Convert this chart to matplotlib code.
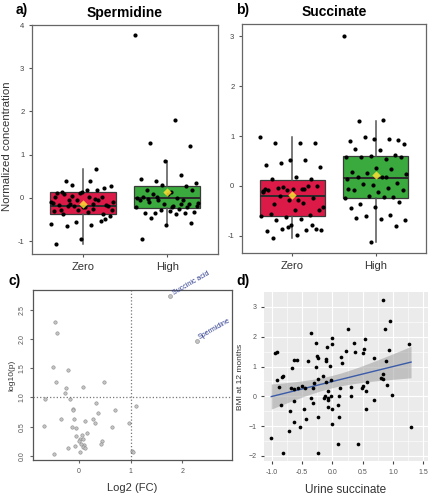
import numpy as np
import matplotlib
matplotlib.use('Agg')
import matplotlib.pyplot as plt

plt.rcParams['font.family'] = ['Liberation Sans', 'DejaVu Sans']

# ---- data ----
groups = ['Zero', 'High']

sperm_zero = [-0.10, 0.40, 0.38, -0.50, -0.95, -1.07, 0.67, 0.29, 0.28, 0.19, 0.13, 0.02,
              -0.06, -0.12, -0.14, -0.18, -0.19, -0.22, -0.16, -0.06, -0.18, -0.10, 0.02,
              0.09, 0.22, 0.11, 0.02, -0.02, -0.14, -0.41, -0.22, -0.29, -0.53, -0.57,
              -0.60, -0.62, -0.66, -0.16, 0.13, 0.11, 0.17, 0.05, -0.29, -0.33, -0.37,
              -0.37, -0.28, -0.31, -0.26, -0.06]
sperm_high = [3.78, 1.81, 1.27, 1.19, 0.86, 0.43, 0.52, 0.40, 0.35, 0.13, 0.19, 0.27, 0.29,
              0.00, 0.00, 0.09, 0.17, 0.09, 0.02, -0.06, -0.05, -0.12, -0.18, -0.10, -0.14,
              -0.15, -0.06, -0.26, -0.35, -0.33, -0.31, -0.35, -0.35, -0.29, -0.22, -0.37,
              -0.47, -0.59, -0.64, -0.95, -0.14, 0.02, -0.20, -0.22, -0.02, -0.22]
succ_zero = [0.99, 0.85, 0.85, 0.85, 0.51, 0.41, 0.52, 0.45, 0.37, 0.17, 0.13, 0.13, -0.09,
             -0.11, -0.06, -0.04, -0.01, -0.07, -0.09, -0.01, -0.03, -0.43, -0.29, -0.37,
             -0.24, -0.29, -0.06, -0.07, -0.21, -0.48, -0.49, -0.56, -0.59, -0.63, -0.61,
             -0.66, -0.68, -0.87, -0.79, -0.91, -0.88, -0.86, -0.88, -0.99, -1.04, -0.79,
             -0.83, -0.13, -0.34]
succ_high = [3.01, 1.33, 1.31, 0.91, 0.95, 0.90, 0.95, 0.98, 0.83, 0.71, 0.73, 0.61, 0.59,
             0.57, 0.53, 0.58, 0.58, 0.35, 0.28, 0.33, 0.26, 0.23, 0.18, 0.17, 0.05, 0.01,
             -0.07, -0.05, 0.03, -0.09, -0.12, -0.09, -0.22, -0.21, -0.25, -0.23, -0.37,
             -0.32, -0.43, -0.44, -0.59, -0.61, -0.69, -0.67, -0.64, -0.80, -1.13, 0.13, 0.18]

# box stats: q1, median, q3, whisker low, whisker high, mean
sperm_box = [(-0.37, -0.19, 0.13, -1.07, 0.67, -0.15), (-0.23, 0.00, 0.27, -0.64, 0.86, 0.13)]
succ_box = [(-0.61, -0.20, 0.11, -1.05, 0.99, -0.19), (-0.25, 0.15, 0.59, -1.13, 1.31, 0.21)]

# panel c
fc = [-0.46, -0.42, -0.50, -0.21, -0.45, -0.25, 0.08, 0.49, -0.28, -0.66, -0.17, 0.33,
      -0.11, -0.12, 0.37, 0.70, 1.10, -0.34, -0.10, 0.28, -0.67, -0.14, -0.06, 0.12, 0.30,
      0.63, 0.97, 0.16, 0.05, -0.06, 0.02, 0.00, 0.08, 0.10, -0.08, 0.04, 0.08, 0.12,
      0.44, 0.42, -0.21, 0.01, -0.48, 1.02, 1.04]
logp = [2.29, 2.10, 1.53, 1.47, 1.26, 1.16, 1.18, 1.27, 1.07, 0.98, 0.98, 0.90, 0.80,
        0.79, 0.74, 0.78, 0.86, 0.64, 0.63, 0.63, 0.51, 0.50, 0.47, 0.59, 0.56, 0.50,
        0.56, 0.39, 0.36, 0.34, 0.29, 0.26, 0.29, 0.19, 0.17, 0.21, 0.16, 0.13, 0.26,
        0.21, 0.13, 0.07, 0.03, 0.09, 0.07]
sig_names = ['Succinic acid', 'Spermidine']
sig_fc = [1.77, 2.28]
sig_logp = [2.73, 1.97]

# panel d
succ_x = [-1.01, -0.82, -0.95, -0.91, -0.91, -0.89, -0.85, -0.84, -0.81, -0.71, -0.70, -0.67,
          -0.68, -0.63, -0.63, -0.59, -0.63, -0.63, -0.56, -0.51, -0.46, -0.54, -0.47, -0.43,
          -0.40, -0.35, -0.35, -0.32, -0.31, -0.32, -0.27, -0.27, -0.25, -0.24, -0.23, -0.23,
          -0.23, -0.15, -0.14, -0.12, -0.10, -0.10, -0.09, -0.10, -0.08, -0.08, -0.07, -0.04,
          -0.03, -0.02, -0.01, -0.01, 0.00, 0.00, -0.07, 0.10, 0.11, 0.11, 0.10, 0.13, 0.15,
          0.16, 0.23, 0.25, 0.30, 0.31, 0.35, 0.38, 0.43, 0.49, 0.50, 0.51, 0.53, 0.54, 0.55,
          0.55, 0.58, 0.68, 0.69, 0.83, 0.81, 0.83, 0.84, 0.87, 0.88, 0.91, 0.93, 0.96, 0.98,
          1.27, 1.30]
bmi = [-1.40, -1.90, 1.46, 1.49, 0.56, 0.32, -0.28, 0.65, 0.69, -1.16, -0.49, 0.96, 0.29,
       -0.15, 1.21, 1.23, -0.87, 0.24, 0.29, 0.35, 0.29, -1.03, -0.43, -0.75, 1.19, 2.13,
       -0.05, -0.21, 0.46, 0.28, 1.80, 0.99, 1.34, 1.27, 0.58, -0.69, -1.89, 0.67, -0.04,
       0.00, 1.20, 1.25, 1.66, 0.49, 0.18, -0.05, -0.36, 1.01, 0.01, 0.56, -0.41, -0.92,
       1.94, 1.75, -0.13, -0.28, 0.02, -0.71, -1.59, 0.28, 1.32, 1.13, 1.51, 2.27, 0.00,
       0.32, 1.80, 1.49, -1.59, 0.29, 0.34, 1.47, 1.58, 1.92, -0.41, 0.17, 0.48, 1.27,
       -0.11, 3.22, 0.62, 0.57, 0.76, 2.27, 1.19, 0.39, 1.57, 2.53, 0.04, 1.74, -1.03]

RED = '#DC1A48'
GREEN = '#3BAA3E'
EDGE = '#3a3a3a'


def jitter(n, width=0.76):
    # deterministic spread for the strip points
    return ((np.arange(n) * 0.618034) % 1 - 0.5) * width


def box_panel(ax, vals, stats, title, ylim, yticks, ylabel=None):
    bxp_stats = []
    for (q1, med, q3, lo, hi, mean) in stats:
        bxp_stats.append({'q1': q1, 'med': med, 'q3': q3, 'whislo': lo, 'whishi': hi,
                          'mean': mean, 'fliers': []})
    bp = ax.bxp(bxp_stats, positions=[1, 2], widths=0.78, patch_artist=True,
                showcaps=False, showfliers=False, showmeans=False,
                boxprops=dict(edgecolor=EDGE, linewidth=0.9),
                whiskerprops=dict(color='#555555', linewidth=1.1),
                medianprops=dict(color='#2a2a2a', linewidth=1.4))
    for patch, c in zip(bp['boxes'], [RED, GREEN]):
        patch.set_facecolor(c)
    for i, v in enumerate(vals):
        v = np.array(v)
        ax.scatter(i + 1 + jitter(len(v)), v, s=9, color='black', zorder=3, linewidths=0)
    for i, st in enumerate(stats):
        ax.scatter([i + 1], [st[5]], marker='D', s=18, color='#FFE033', alpha=0.85,
                   zorder=4, linewidths=0)
    ax.set_xlim(0.4, 2.6)
    ax.set_ylim(*ylim)
    ax.set_yticks(yticks)
    ax.set_yticklabels([str(t) for t in yticks])
    ax.set_xticks([1, 2])
    ax.set_xticklabels(groups, fontsize=8, color='#333333')
    ax.tick_params(axis='y', labelsize=5.5, length=2, color='#555555', labelcolor='#444444')
    ax.tick_params(axis='x', length=2, color='#555555')
    for s in ax.spines.values():
        s.set_color('#666666')
        s.set_linewidth(0.9)
    ax.set_title(title, fontsize=10, fontweight='bold', pad=6)
    if ylabel:
        ax.set_ylabel(ylabel, fontsize=8.2, color='#333333')
        ax.yaxis.set_label_coords(-0.105, 0.47)


fig = plt.figure(figsize=(4.34, 5.0), dpi=100)

ax_a = fig.add_axes([32 / 434, 1 - 254 / 500, 186 / 434, 229 / 500])
box_panel(ax_a, [sperm_zero, sperm_high], sperm_box, 'Spermidine',
          (-1.3, 4.0), [-1, 0, 1, 2, 3, 4], 'Normalized concentration')

ax_b = fig.add_axes([242 / 434, 1 - 253 / 500, 184 / 434, 229 / 500])
box_panel(ax_b, [succ_zero, succ_high], succ_box, 'Succinate',
          (-1.35, 3.25), [-1, 0, 1, 2, 3])

# ---- panel c ----
ax_c = fig.add_axes([33 / 434, 1 - 460 / 500, 199 / 434, 170 / 500])
ax_c.scatter(fc, logp, s=6, facecolor='#c4c4c4', edgecolor='#8a8a8a', linewidths=0.4)
ax_c.scatter(sig_fc, sig_logp, s=8, facecolor='#c4c4c4', edgecolor='#8a8a8a', linewidths=0.4)
for name, x, y in zip(sig_names, sig_fc, sig_logp):
    ax_c.annotate(name, (x, y), xytext=(3, 0), textcoords='offset points', fontsize=5,
                  color='#2b3a8c', rotation=30, rotation_mode='anchor', ha='left',
                  va='bottom', annotation_clip=False).set_clip_on(False)
ax_c.axvline(1, color='#777777', linestyle=':', linewidth=0.9)
ax_c.axhline(1, color='#777777', linestyle=':', linewidth=0.9)
ax_c.set_xlim(-0.89, 2.96)
ax_c.set_ylim(-0.07, 2.84)
ax_c.set_xticks([0, 1, 2])
ax_c.set_yticks([0.0, 0.5, 1.0, 1.5, 2.0, 2.5])
ax_c.set_yticklabels(['0.0', '0.5', '1.0', '1.5', '2.0', '2.5'], rotation=90, va='center')
ax_c.tick_params(labelsize=5, length=2, color='#666666', labelcolor='#555555')
ax_c.set_xlabel('Log2 (FC)', fontsize=8, color='#333333', labelpad=6)
ax_c.set_ylabel('log10(p)', fontsize=6, color='#333333', labelpad=2)
for s in ax_c.spines.values():
    s.set_color('#555555')
    s.set_linewidth(0.9)

# ---- panel d ----
ax_d = fig.add_axes([264 / 434, 1 - 461 / 500, 164 / 434, 169 / 500])
ax_d.set_facecolor('#EBEBEB')
xd = np.array(succ_x)
yd = np.array(bmi)
slope, intercept = np.polyfit(xd, yd, 1)
n = len(xd)
resid = yd - (slope * xd + intercept)
s_err = np.sqrt(np.sum(resid ** 2) / (n - 2))
sxx = np.sum((xd - xd.mean()) ** 2)
xs = np.linspace(xd.min(), xd.max(), 100)
ys = slope * xs + intercept
ci = 1.987 * s_err * np.sqrt(1 / n + (xs - xd.mean()) ** 2 / sxx)
ax_d.fill_between(xs, ys - ci, ys + ci, color='#999999', alpha=0.5, linewidth=0, zorder=2)
ax_d.plot(xs, ys, color='#3A5BA8', linewidth=1.0, zorder=3)
ax_d.scatter(xd, yd, s=7, color='black', linewidths=0, zorder=4)
ax_d.set_xlim(-1.13, 1.58)
ax_d.set_ylim(-2.17, 3.5)
ax_d.set_xticks([-1.0, -0.5, 0.0, 0.5, 1.0, 1.5])
ax_d.set_xticklabels(['-1.0', '-0.5', '0.0', '0.5', '1.0', '1.5'])
ax_d.set_yticks([-2, -1, 0, 1, 2, 3])
ax_d.set_xticks([-0.75, -0.25, 0.25, 0.75, 1.25], minor=True)
ax_d.set_yticks([-1.5, -0.5, 0.5, 1.5, 2.5], minor=True)
ax_d.grid(which='major', color='white', linewidth=0.8, zorder=0)
ax_d.grid(which='minor', color='white', linewidth=0.4, zorder=0)
ax_d.set_axisbelow(True)
ax_d.tick_params(which='major', labelsize=5, length=2, color='#444444', labelcolor='#555555')
ax_d.tick_params(which='minor', length=0)
for s in ax_d.spines.values():
    s.set_visible(False)
ax_d.set_xlabel('Urine succinate', fontsize=8.5, color='#333333', labelpad=6)
ax_d.set_ylabel('BMI at 12 months', fontsize=6, color='#333333', labelpad=3)

# panel letters
for lab, x, y in [('a)', 22, 10), ('b)', 243, 10), ('c)', 15, 281), ('d)', 243, 281)]:
    fig.text(x / 434, 1 - y / 500, lab, fontsize=10, fontweight='bold', ha='center', va='center')

fig.savefig('out.png', dpi=100)
